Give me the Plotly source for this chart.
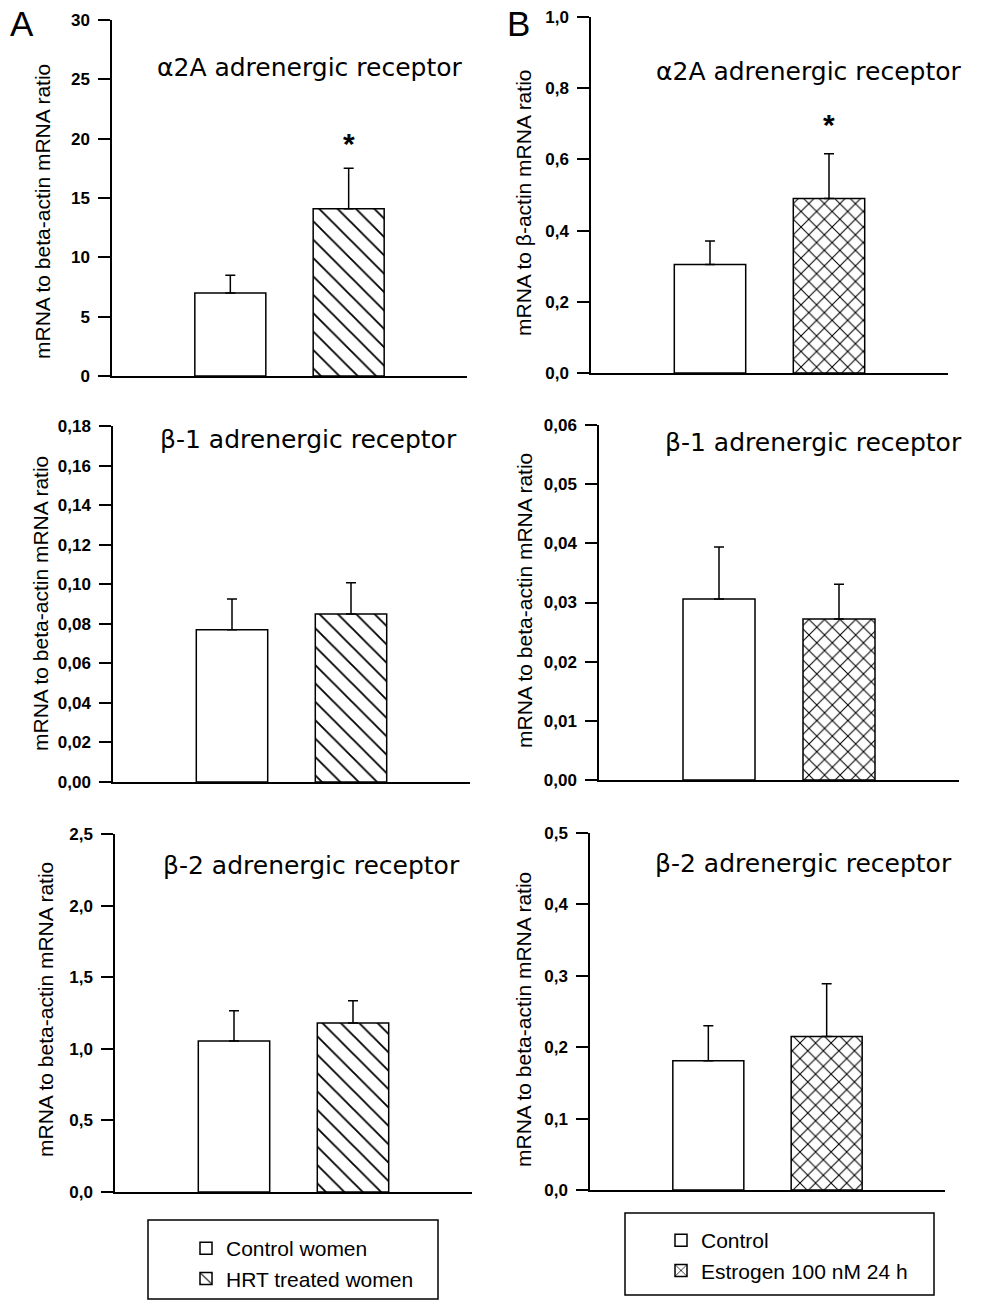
import plotly.graph_objects as go

# ---------------- data ----------------
groups_A = ["Control women", "HRT treated women"]
groups_B = ["Control", "Estrogen 100 nM 24 h"]
receptors = ["α2A adrenergic receptor", "β-1 adrenergic receptor", "β-2 adrenergic receptor"]

a_alpha2a_mean = [7.0, 14.1]
a_alpha2a_sem = [1.5, 3.4]
a_beta1_mean = [0.077, 0.085]
a_beta1_sem = [0.0155, 0.0157]
a_beta2_mean = [1.055, 1.18]
a_beta2_sem = [0.21, 0.155]

b_alpha2a_mean = [0.305, 0.49]
b_alpha2a_sem = [0.066, 0.126]
b_beta1_mean = [0.0306, 0.0272]
b_beta1_sem = [0.0088, 0.0059]
b_beta2_mean = [0.181, 0.215]
b_beta2_sem = [0.049, 0.074]

a_alpha2a_sig = [False, True]
b_alpha2a_sig = [False, True]
no_sig = [False, False]

a_ranges = [[0, 30], [0, 0.18], [0, 2.5]]
a_dticks = [5, 0.02, 0.5]
a_formats = [".0f", ".2f", ".1f"]
b_ranges = [[0, 1.0], [0, 0.06], [0, 0.5]]
b_dticks = [0.2, 0.01, 0.1]
b_formats = [".1f", ".2f", ".1f"]

ytitle_A = "mRNA to beta-actin mRNA ratio"
ytitle_B_alpha = "mRNA to β-actin mRNA ratio"
ytitle_B = "mRNA to beta-actin mRNA ratio"

# ---------------- layout geometry (pixels) ----------------
W, H = 982, 1300
def px(v):
    return v / W
def py(v):
    return 1 - v / H

# (x_left, x_right, y_top, y_bottom) of each plotting area
boxes = [
    (112, 467, 20, 376),   # A alpha2a
    (591, 948, 17, 373),   # B alpha2a
    (113, 470, 426, 782),  # A beta1
    (599, 959, 425, 780),  # B beta1
    (115, 472, 834, 1192), # A beta2
    (590, 945, 833, 1190), # B beta2
]
title_pos = [(310, 67), (809, 72), (308, 439), (813, 442), (311, 865), (803, 863)]
ytitle_pos = [(42, 212), (524, 203), (40, 604), (524, 601), (45, 1010), (523, 1020)]

panels = [
    dict(groups=groups_A, mean=a_alpha2a_mean, sem=a_alpha2a_sem, sig=a_alpha2a_sig,
         rng=a_ranges[0], dt=a_dticks[0], fmt=a_formats[0], title=receptors[0], ytitle=ytitle_A, side="A"),
    dict(groups=groups_B, mean=b_alpha2a_mean, sem=b_alpha2a_sem, sig=b_alpha2a_sig,
         rng=b_ranges[0], dt=b_dticks[0], fmt=b_formats[0], title=receptors[0], ytitle=ytitle_B_alpha, side="B"),
    dict(groups=groups_A, mean=a_beta1_mean, sem=a_beta1_sem, sig=no_sig,
         rng=a_ranges[1], dt=a_dticks[1], fmt=a_formats[1], title=receptors[1], ytitle=ytitle_A, side="A"),
    dict(groups=groups_B, mean=b_beta1_mean, sem=b_beta1_sem, sig=no_sig,
         rng=b_ranges[1], dt=b_dticks[1], fmt=b_formats[1], title=receptors[1], ytitle=ytitle_B, side="B"),
    dict(groups=groups_A, mean=a_beta2_mean, sem=a_beta2_sem, sig=no_sig,
         rng=a_ranges[2], dt=a_dticks[2], fmt=a_formats[2], title=receptors[2], ytitle=ytitle_A, side="A"),
    dict(groups=groups_B, mean=b_beta2_mean, sem=b_beta2_sem, sig=no_sig,
         rng=b_ranges[2], dt=b_dticks[2], fmt=b_formats[2], title=receptors[2], ytitle=ytitle_B, side="B"),
]

patterns = {"A": "\\", "B": "x"}
pattern_size = {"A": 13, "B": 11}
pattern_solidity = {"A": 0.14, "B": 0.18}
star_shift = {"A": 6, "B": 11}

fig = go.Figure()
layout = dict(
    template="none",
    width=W, height=H, autosize=False,
    margin=dict(l=0, r=0, t=0, b=0, pad=0, autoexpand=False),
    paper_bgcolor="white", plot_bgcolor="white",
    barmode="overlay", separators=",.",
    font=dict(family="Liberation Sans", color="black"),
)
annotations = []
shapes = []

for i, p in enumerate(panels):
    k = i + 1
    xa = "x" if k == 1 else f"x{k}"
    ya = "y" if k == 1 else f"y{k}"
    x0, x1, y0, y1 = boxes[i]
    last_row = i >= 4
    for j, g in enumerate(p["groups"]):
        marker = dict(color="white", line=dict(color="black", width=1.5))
        if j == 1:
            marker["pattern"] = dict(shape=patterns[p["side"]], fgcolor="black", bgcolor="white",
                                     size=pattern_size[p["side"]], solidity=pattern_solidity[p["side"]])
        fig.add_trace(go.Bar(
            x=[g], y=[p["mean"][j]], width=0.6, name=g,
            marker=marker,
            error_y=dict(type="data", symmetric=False, array=[p["sem"][j]], arrayminus=[0],
                         color="black", thickness=1.5, width=5),
            xaxis=xa, yaxis=ya,
            showlegend=last_row,
            legend="legend" if p["side"] == "A" else "legend2",
        ))
        if p["sig"][j]:
            annotations.append(dict(
                x=g, y=p["mean"][j] + p["sem"][j], xref=xa, yref=ya,
                text="*", showarrow=False, yanchor="bottom", yshift=star_shift[p["side"]],
                font=dict(size=30, family="Liberation Sans", weight="bold", color="black"),
            ))
    layout["xaxis" if k == 1 else f"xaxis{k}"] = dict(
        domain=[px(x0), px(x1)], anchor=ya, type="category",
        categoryorder="array", categoryarray=p["groups"], range=[-1, 2],
        showline=True, linecolor="black", linewidth=1.5, ticks="", showticklabels=False,
        showgrid=False, zeroline=False, fixedrange=True, automargin=False,
    )
    layout["yaxis" if k == 1 else f"yaxis{k}"] = dict(
        domain=[py(y1), py(y0)], anchor=xa, range=p["rng"], dtick=p["dt"], tick0=0,
        tickformat=p["fmt"], showline=True, linecolor="black", linewidth=1.5,
        ticks="outside", ticklen=12, tickwidth=1.5, tickcolor="black",
        tickfont=dict(size=17, family="Liberation Sans", weight="bold", color="black"),
        ticklabelstandoff=5,
        showgrid=False, zeroline=False, fixedrange=True, automargin=False,
    )
    tx, ty = title_pos[i]
    annotations.append(dict(
        x=px(tx), y=py(ty), xref="paper", yref="paper", text=p["title"], showarrow=False,
        xanchor="center", yanchor="middle",
        font=dict(size=25, family="DejaVu Sans", color="black"),
    ))
    yx, yy = ytitle_pos[i]
    annotations.append(dict(
        x=px(yx), y=py(yy), xref="paper", yref="paper", text=p["ytitle"], showarrow=False,
        xanchor="center", yanchor="middle", textangle=-90,
        font=dict(size=21, family="Liberation Sans", color="black"),
    ))

# panel letters
annotations.append(dict(x=px(8), y=py(2), xref="paper", yref="paper", text="A", showarrow=False,
                        xanchor="left", yanchor="top", font=dict(size=35, family="Liberation Sans")))
annotations.append(dict(x=px(505), y=py(2), xref="paper", yref="paper", text="B", showarrow=False,
                        xanchor="left", yanchor="top", font=dict(size=35, family="Liberation Sans")))

# legend frames
shapes.append(dict(type="rect", xref="paper", yref="paper", x0=px(148), x1=px(438), y0=py(1299), y1=py(1220),
                   line=dict(color="black", width=1.5), fillcolor="rgba(0,0,0,0)"))
shapes.append(dict(type="rect", xref="paper", yref="paper", x0=px(625), x1=px(934), y0=py(1295), y1=py(1213),
                   line=dict(color="black", width=1.5), fillcolor="rgba(0,0,0,0)"))

layout["legend"] = dict(x=px(186), y=py(1228), xanchor="left", yanchor="top",
                        bgcolor="rgba(0,0,0,0)", borderwidth=0, traceorder="normal",
                        font=dict(size=21, family="Liberation Sans", color="black"))
layout["legend2"] = dict(x=px(661), y=py(1220), xanchor="left", yanchor="top",
                         bgcolor="rgba(0,0,0,0)", borderwidth=0, traceorder="normal",
                         font=dict(size=21, family="Liberation Sans", color="black"))
layout["annotations"] = annotations
layout["shapes"] = shapes
layout["showlegend"] = True
fig.update_layout(**layout)

fig.write_html("out.html", config={"displayModeBar": False},
               post_script="document.body.style.margin='0px';document.body.style.overflow='hidden';")
